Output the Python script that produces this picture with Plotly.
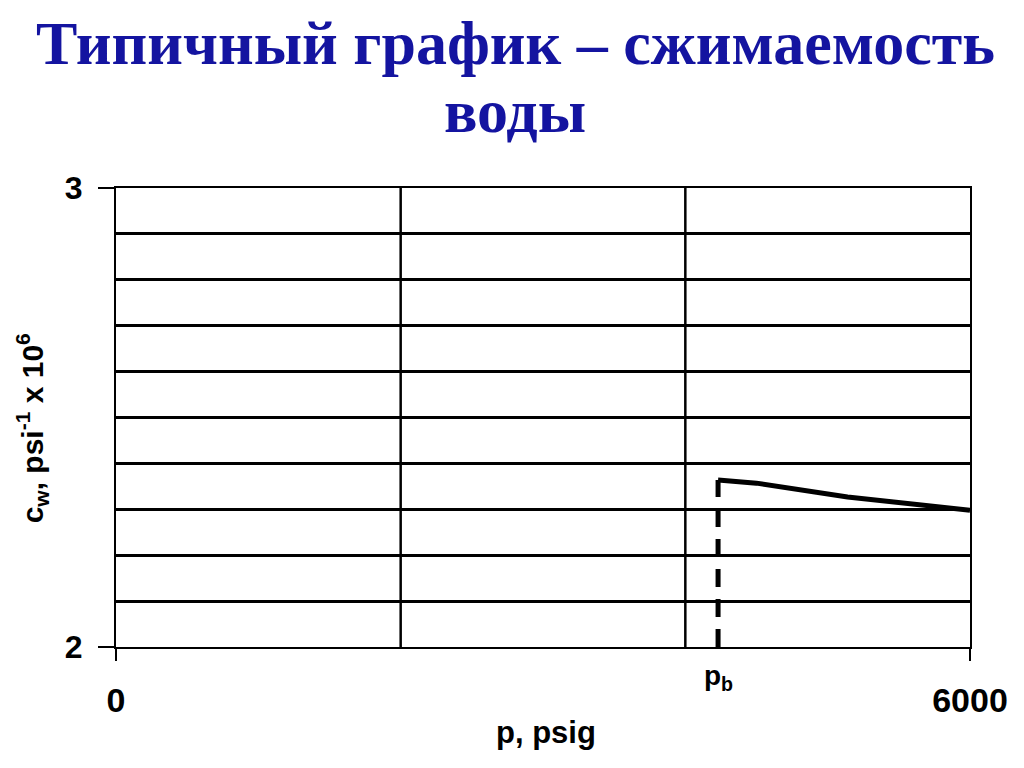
import plotly.graph_objects as go

# water compressibility above bubble point
p_psig = [4230, 4500, 5140, 6000]
cw = [2.364, 2.357, 2.327, 2.298]

p_bubble = 4230
dash_y = [2.0, 2.364]

x_ticks = [0, 6000]
x_labels = ["0", "6000"]
y_ticks = [2, 3]
y_labels = ["2", "3"]
grid_x = [2000, 4000]
grid_step = 0.1

title_lines = ["Типичный график – сжимаемость", "воды"]

fig = go.Figure()

fig.add_trace(go.Scatter(x=p_psig, y=cw, mode="lines",
                         line=dict(color="black", width=5), showlegend=False))
fig.add_trace(go.Scatter(x=[p_bubble, p_bubble], y=dash_y, mode="lines",
                         line=dict(color="black", width=5, dash="18px,12px"), showlegend=False))

# vertical grid lines at 2000 / 4000
for gx in grid_x:
    fig.add_vline(x=gx, line=dict(color="black", width=2.5), layer="below")

# page body has an 8px margin, so the plot box is pulled up/left by 8px
fig.update_layout(
    width=1024, height=768,
    margin=dict(l=108, r=62, t=180, b=129, autoexpand=False),
    paper_bgcolor="white", plot_bgcolor="white",
    font=dict(family="Liberation Sans", color="black"),
)

# title as two centred lines
for txt, ty in zip(title_lines, [1.316, 1.168]):
    fig.add_annotation(x=0.5, y=ty, xref="paper", yref="paper", xshift=-28,
                       yanchor="middle", text="<b>%s</b>" % txt, showarrow=False,
                       font=dict(family="Liberation Serif", size=62, color="#1414a0"))

fig.update_xaxes(
    range=[0, 6000], tickvals=x_ticks, ticktext=["<b>%s</b>" % t for t in x_labels],
    tickfont=dict(size=34, family="Liberation Sans"), ticks="outside", ticklen=12,
    tickwidth=2, tickcolor="black", ticklabelstandoff=10,
    showline=True, linecolor="black", linewidth=2, mirror=True,
    showgrid=False, zeroline=False,
)
fig.update_yaxes(
    range=[2, 3], tickvals=y_ticks, ticktext=["<b>%s</b>" % t for t in y_labels],
    tickfont=dict(size=32, family="Liberation Sans"), ticks="outside", ticklen=16,
    tickwidth=2, tickcolor="black", ticklabelstandoff=9,
    showline=True, linecolor="black", linewidth=2, mirror=True,
    showgrid=True, gridcolor="black", gridwidth=2.5,
    minor=dict(dtick=grid_step, showgrid=True, gridcolor="black", gridwidth=2.5),
    zeroline=False,
)

# axis titles
fig.add_annotation(x=-0.098, y=0.477, xref="paper", yref="paper", textangle=-90,
                   xanchor="center", yanchor="middle",
                   text="<b>c<sub>w</sub>, psi<sup>-1</sup> x 10<sup>6</sup></b>",
                   showarrow=False,
                   font=dict(size=30, family="Liberation Sans", color="black"))

fig.add_annotation(x=0.5, y=-0.187, xref="paper", yref="paper", xshift=3,
                   yanchor="middle", text="<b>p, psig</b>", showarrow=False,
                   font=dict(size=31, family="Liberation Sans", color="black"))

fig.add_annotation(x=p_bubble, y=-0.025, xref="x", yref="paper", yanchor="top",
                   text="<b>p<sub>b</sub></b>", showarrow=False,
                   font=dict(size=28, family="Liberation Sans", color="black"))

fig.write_html("out.html")
